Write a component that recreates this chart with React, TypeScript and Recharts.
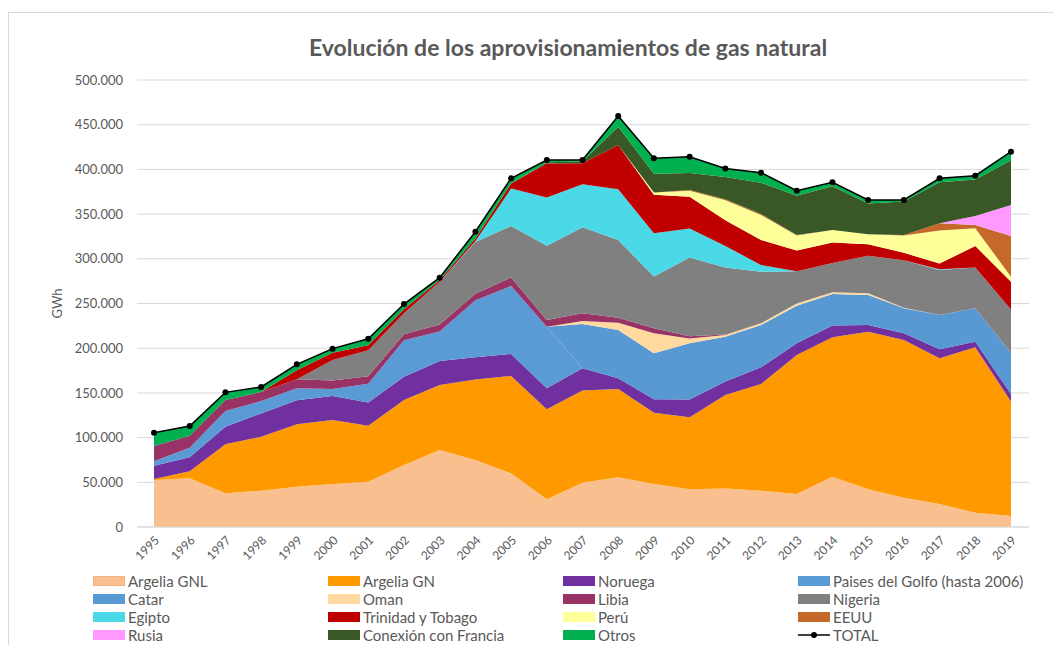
import React from "react";
import { ComposedChart, Area, Line, XAxis, YAxis, CartesianGrid, Label } from "recharts";

const years = [
  "1995", "1996", "1997", "1998", "1999", "2000", "2001", "2002", "2003", "2004", "2005", "2006", "2007",
  "2008", "2009", "2010", "2011", "2012", "2013", "2014", "2015", "2016", "2017", "2018", "2019",
];

// GWh
const argeliaGNL = [52600, 54500, 37700, 40600, 45000, 48000, 50700, 69400, 86000, 75000, 60000, 31000, 49600, 55600, 48000, 42200, 43000, 40600, 37000, 56300, 42200, 32800, 25700, 16000, 12300];
const argeliaGN = [1000, 8000, 55000, 60400, 70000, 71700, 62600, 72600, 72800, 90000, 109000, 100600, 103000, 98800, 79900, 80500, 104700, 119400, 155400, 156000, 176300, 176400, 163000, 185000, 128000];
const noruega = [15000, 15500, 19400, 26000, 26800, 26800, 26000, 26000, 27000, 25000, 24500, 23500, 25000, 12000, 15000, 20000, 15000, 18600, 13000, 13000, 7500, 7500, 10000, 6300, 8600];
const golfo = [5000, 10700, 17600, 14000, 13500, 8000, 21000, 41000, 32800, 63500, 76000, 69000, 0, 0, 0, 0, 0, 0, 0, 0, 0, 0, 0, 0, 0];
const catar = [0, 0, 0, 0, 0, 0, 0, 0, 0, 0, 0, 0, 49500, 54000, 51500, 62700, 50000, 47400, 42000, 35400, 33500, 28000, 38300, 37300, 46000];
const oman = [0, 0, 0, 0, 0, 0, 0, 0, 0, 0, 0, 0, 3400, 8000, 22400, 5500, 2000, 1800, 2600, 2000, 1900, 500, 0, 0, 0];
const libia = [17000, 13400, 12300, 10000, 10000, 9300, 8300, 6500, 8000, 7400, 9700, 7500, 8600, 5600, 5600, 2600, 700, 0, 0, 0, 0, 0, 0, 0, 0];
const nigeria = [0, 0, 0, 0, 0, 23000, 29000, 23500, 47700, 57800, 57400, 83000, 96200, 87000, 57700, 88000, 74800, 57800, 36000, 32500, 42000, 53300, 50400, 45700, 48500];
const egipto = [0, 0, 0, 0, 0, 0, 0, 0, 0, 1000, 42000, 54000, 48000, 56700, 48500, 32300, 24000, 7500, 0, 0, 0, 0, 800, 0, 0];
const trinidad = [0, 0, 0, 0, 10000, 8000, 5600, 4500, 2000, 3000, 5600, 38000, 23500, 49600, 43000, 35500, 29000, 28000, 23400, 23000, 13000, 8200, 6500, 24000, 31000];
const peru = [0, 0, 0, 0, 0, 0, 0, 0, 0, 0, 0, 0, 0, 0, 2600, 6700, 22400, 28000, 16800, 14000, 11000, 19500, 37000, 19800, 5600];
const eeuu = [0, 0, 0, 0, 0, 0, 0, 0, 0, 0, 0, 0, 0, 0, 0, 1000, 1000, 1000, 500, 0, 0, 500, 8000, 3700, 45500];
const rusia = [0, 0, 0, 0, 0, 0, 0, 0, 0, 0, 0, 0, 0, 0, 0, 0, 0, 0, 0, 0, 0, 0, 0, 10000, 34700];
const conexion = [0, 0, 0, 0, 0, 0, 0, 0, 0, 0, 0, 1500, 2000, 20500, 21000, 19000, 25000, 35000, 43700, 49000, 34500, 37500, 46000, 41000, 50000];
const otros = [14900, 10900, 8600, 5600, 6700, 4700, 7400, 5900, 2600, 7600, 5800, 2400, 1700, 11900, 17200, 18200, 9400, 11200, 5800, 4400, 3900, 1600, 4300, 4200, 9600];
const total = [105500, 113000, 150600, 156600, 182000, 199500, 210600, 249400, 278900, 330300, 390000, 410500, 410500, 459700, 412400, 414200, 401000, 396300, 376200, 385600, 365800, 365800, 390000, 393000, 419800];

const yTicks = [0, 50000, 100000, 150000, 200000, 250000, 300000, 350000, 400000, 450000, 500000];

const series = [
  { key: "gnl", name: "Argelia GNL", color: "#FABF8F", values: argeliaGNL },
  { key: "gn", name: "Argelia GN", color: "#FF9900", values: argeliaGN },
  { key: "nor", name: "Noruega", color: "#7030A0", values: noruega },
  { key: "golfo", name: "Paises del Golfo (hasta 2006)", color: "#5B9BD5", values: golfo },
  { key: "catar", name: "Catar", color: "#5899D4", values: catar },
  { key: "oman", name: "Oman", color: "#FFD9A0", values: oman },
  { key: "libia", name: "Libia", color: "#993366", values: libia },
  { key: "nig", name: "Nigeria", color: "#808080", values: nigeria },
  { key: "egi", name: "Egipto", color: "#4BD9E7", values: egipto },
  { key: "tri", name: "Trinidad y Tobago", color: "#C00000", values: trinidad },
  { key: "peru", name: "Perú", color: "#FFFF99", values: peru },
  { key: "eeuu", name: "EEUU", color: "#C5692A", values: eeuu },
  { key: "rus", name: "Rusia", color: "#FF99FF", values: rusia },
  { key: "fra", name: "Conexión con Francia", color: "#3A5726", values: conexion },
  { key: "otros", name: "Otros", color: "#00B050", values: otros },
];

const data = years.map((year, i) => {
  const row: Record<string, number | string> = { year, total: total[i] };
  series.forEach(s => { row[s.key] = s.values[i]; });
  return row;
});

const fmt = (v: number) => v.toLocaleString("de-DE");
const font = "Lato, 'Open Sans', sans-serif";
const grey = "#595959";

function LegendBox() {
  const items = [...series.map(s => ({ key: s.key, name: s.name, color: s.color })), { key: "total", name: "TOTAL", color: "" }];
  const cols = [93, 328, 563, 798];
  return (
    <>
      {items.map((it, i) => (
        <div
          key={it.key}
          style={{
            position: "absolute", left: cols[i % 4], top: 572 + Math.floor(i / 4) * 18,
            height: 18, display: "flex", alignItems: "center", fontSize: 15, color: grey, whiteSpace: "nowrap",
          }}
        >
          {it.color ? (
            <span style={{ width: 32, height: 10, background: it.color, marginRight: 3, boxSizing: "border-box",
              border: it.key === "gnl" ? "1px solid #F4B183" : "none" }} />
          ) : (
            <svg width={32} height={10} style={{ marginRight: 3 }}>
              <line x1={0} y1={5} x2={32} y2={5} stroke="#000" strokeWidth={1.5} />
              <circle cx={16} cy={5} r={3} fill="#000" />
            </svg>
          )}
          {it.name}
        </div>
      ))}
    </>
  );
}

export default function App() {
  return (
    <div style={{ position: "absolute", left: 0, top: 0, width: 1054, height: 645, background: "#fff", fontFamily: font, overflow: "hidden" }}>
      <div style={{ position: "absolute", left: 8, top: 12, width: 1100, height: 700, borderLeft: "1px solid #D9D9D9", borderTop: "1px solid #D9D9D9" }} />
      <div style={{ position: "absolute", left: 0, width: 1136, top: 33, textAlign: "center", fontSize: 23, fontWeight: 700, color: grey }}>
        Evolución de los aprovisionamientos de gas natural
      </div>
      <div style={{ position: "absolute", left: 0, top: 0 }}>
        <ComposedChart width={1054} height={645} data={data} margin={{ top: 80, right: 25, left: 0, bottom: 78 }}>
          <CartesianGrid vertical={false} stroke="#D9D9D9" />
          <XAxis
            dataKey="year"
            interval={0}
            padding={{ left: 17, right: 18 }}
            axisLine={{ stroke: "#D9D9D9" }}
            tickLine={false}
            angle={-45}
            textAnchor="end"
            height={40}
            tick={{ fontSize: 12, fill: grey, fontFamily: font }}
          />
          <YAxis
            domain={[0, 500000]}
            ticks={yTicks}
            width={137}
            tickFormatter={fmt}
            axisLine={false}
            tickLine={false}
            tickSize={0}
            tickMargin={14}
            tick={{ fontSize: 13, fill: grey, fontFamily: font }}
          >
            <Label value="GWh" angle={-90} position="insideLeft" offset={57} style={{ textAnchor: "middle", fontSize: 13, fill: grey, fontFamily: font }} />
          </YAxis>
          {series.map(s => (
            <Area
              key={s.key}
              type="linear"
              dataKey={s.key}
              name={s.name}
              stackId="a"
              fill={s.color}
              fillOpacity={1}
              stroke="none"
              isAnimationActive={false}
            />
          ))}
          <Line
            type="linear"
            dataKey="total"
            name="TOTAL"
            stroke="#000"
            strokeWidth={1.5}
            dot={{ r: 3, fill: "#000", stroke: "#000", strokeWidth: 0 }}
            isAnimationActive={false}
          />
        </ComposedChart>
      </div>
      <LegendBox />
    </div>
  );
}
